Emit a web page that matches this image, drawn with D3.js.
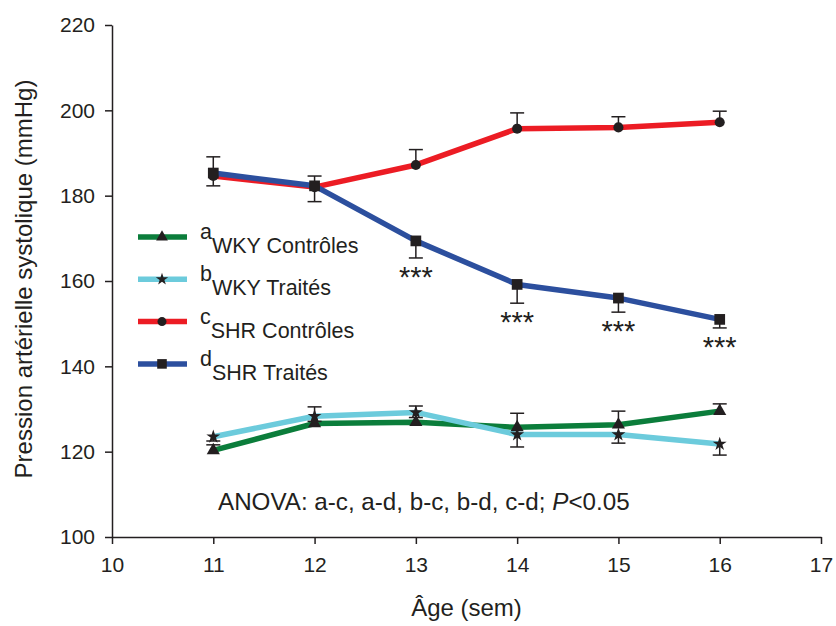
<!DOCTYPE html>
<html>
<head>
<meta charset="utf-8">
<script src="https://cdn.jsdelivr.net/npm/d3@7/dist/d3.min.js"></script>
<style>
  html, body { margin: 0; padding: 0; background: #fff; }
  svg { display: block; font-family: "Liberation Sans", Arial, sans-serif; }
</style>
</head>
<body>
<svg id="chart" width="836" height="626"></svg>
<script>
// ---- data ----
const ages = [11, 12, 13, 14, 15, 16];
const xTicks = [10, 11, 12, 13, 14, 15, 16, 17];
const yTicks = [100, 120, 140, 160, 180, 200, 220];

const seriesNames = ["WKY Contrôles", "WKY Traités", "SHR Contrôles", "SHR Traités"];
const seriesLetters = ["a", "b", "c", "d"];

const wkyCtrl = [120.3, 126.6, 126.9, 125.7, 126.3, 129.5];
const wkyCtrlErr = [1.3, 3.9, 3.8, 3.3, 3.2, 1.7];
const wkyTreat = [123.5, 128.3, 129.2, 124.0, 124.0, 121.8];
const wkyTreatErr = [1.0, 1.2, 1.2, 2.9, 2.0, 2.6];
const shrCtrl = [184.6, 182.0, 187.2, 195.7, 196.0, 197.2];
const shrCtrlErr = [4.5, 2.6, 3.6, 3.7, 2.5, 2.6];
const shrTreat = [185.3, 182.3, 169.4, 159.2, 156.0, 151.0];
const shrTreatErr = [3.0, 3.7, 4.0, 4.4, 3.3, 2.0];
const significance = ["", "", "***", "***", "***", "***"];

const anovaText = "ANOVA: a-c, a-d, b-c, b-d, c-d; ";

// ---- styling ----
const colors = ["#0b7d3b", "#6ccbdc", "#ec1c24", "#2c4f9e"];
const symbols = [d3.symbolTriangle, d3.symbolStar, d3.symbolCircle, d3.symbolSquare];
const symSizes = [75, 60, 80, 115];
const errDir = [1, -1, 1, -1];
const ink = "#231f20";

const series = [
  { values: wkyCtrl, err: wkyCtrlErr },
  { values: wkyTreat, err: wkyTreatErr },
  { values: shrCtrl, err: shrCtrlErr },
  { values: shrTreat, err: shrTreatErr }
];

const svg = d3.select("#chart");
const x = d3.scaleLinear().domain([10, 17]).range([112, 821]);
const y = d3.scaleLinear().domain([100, 220]).range([537, 25]);

// axes
const yAxis = svg.append("g").attr("transform", `translate(${x(10)},0)`)
  .call(d3.axisLeft(y).tickValues(yTicks).tickFormat(d3.format("d"))
    .tickSize(7).tickSizeOuter(0).tickPadding(10));
const xAxis = svg.append("g").attr("transform", `translate(0,${y(100)})`)
  .call(d3.axisBottom(x).tickValues(xTicks).tickFormat(d3.format("d"))
    .tickSize(7).tickSizeOuter(0).tickPadding(13));
[xAxis, yAxis].forEach(g => {
  g.selectAll("path, line").attr("stroke", ink).attr("stroke-width", 1.5);
  g.selectAll("text").attr("fill", ink).attr("font-size", 21).attr("font-family", "Liberation Sans, Arial, sans-serif");
});

// axis titles
svg.append("text")
  .attr("x", (x(10) + x(17)) / 2).attr("y", 616)
  .attr("text-anchor", "middle").attr("font-size", 24).attr("fill", ink)
  .text("Âge (sem)");
svg.append("text")
  .attr("transform", `translate(32,${(y(100) + y(220)) / 2 - 2}) rotate(-90)`)
  .attr("text-anchor", "middle").attr("font-size", 24).attr("fill", ink)
  .text("Pression artérielle systolique (mmHg)");

const line = d3.line().x((d, i) => x(ages[i])).y(d => y(d));

// lines
series.forEach((s, k) => {
  svg.append("path").datum(s.values)
    .attr("d", line).attr("fill", "none")
    .attr("stroke", colors[k]).attr("stroke-width", 5.5)
    .attr("stroke-linejoin", "round");
});

// error bars
series.forEach((s, k) => {
  const g = svg.append("g").attr("stroke", ink).attr("stroke-width", 1.5);
  s.values.forEach((v, i) => {
    const end = v + errDir[k] * s.err[i];
    g.append("line").attr("x1", x(ages[i])).attr("x2", x(ages[i]))
      .attr("y1", y(v)).attr("y2", y(end));
    g.append("line").attr("x1", x(ages[i]) - 7).attr("x2", x(ages[i]) + 7)
      .attr("y1", y(end)).attr("y2", y(end));
  });
});

// markers
series.forEach((s, k) => {
  svg.append("g").selectAll("path").data(s.values).join("path")
    .attr("transform", (d, i) => `translate(${x(ages[i])},${y(d)})`)
    .attr("d", d3.symbol().type(symbols[k]).size(symSizes[k]))
    .attr("fill", ink);
});

// significance stars
svg.append("g").selectAll("text").data(significance).join("text")
  .attr("x", (d, i) => x(ages[i]))
  .attr("y", (d, i) => y(shrTreat[i] - shrTreatErr[i]) + 29)
  .attr("text-anchor", "middle").attr("font-size", 29).attr("fill", ink)
  .text(d => d);

// legend
const legend = svg.append("g");
seriesNames.forEach((name, k) => {
  const ly = 237 + k * 42.3;
  legend.append("line").attr("x1", 138).attr("x2", 187).attr("y1", ly).attr("y2", ly)
    .attr("stroke", colors[k]).attr("stroke-width", 5.5);
  legend.append("path").attr("transform", `translate(162,${ly})`)
    .attr("d", d3.symbol().type(symbols[k]).size(symSizes[k] * 0.8)).attr("fill", ink);
  const t = legend.append("text").attr("x", 200).attr("y", ly + 16)
    .attr("font-size", 21.5).attr("fill", ink);
  t.append("tspan").attr("dy", -14).text(seriesLetters[k]);
  t.append("tspan").attr("dy", 14).text(name);
});

// ANOVA note
const note = svg.append("text").attr("x", 218).attr("y", 510)
  .attr("font-size", 24.2).attr("fill", ink);
note.append("tspan").text(anovaText);
note.append("tspan").attr("font-style", "italic").text("P");
note.append("tspan").text("<0.05");
</script>
</body>
</html>
